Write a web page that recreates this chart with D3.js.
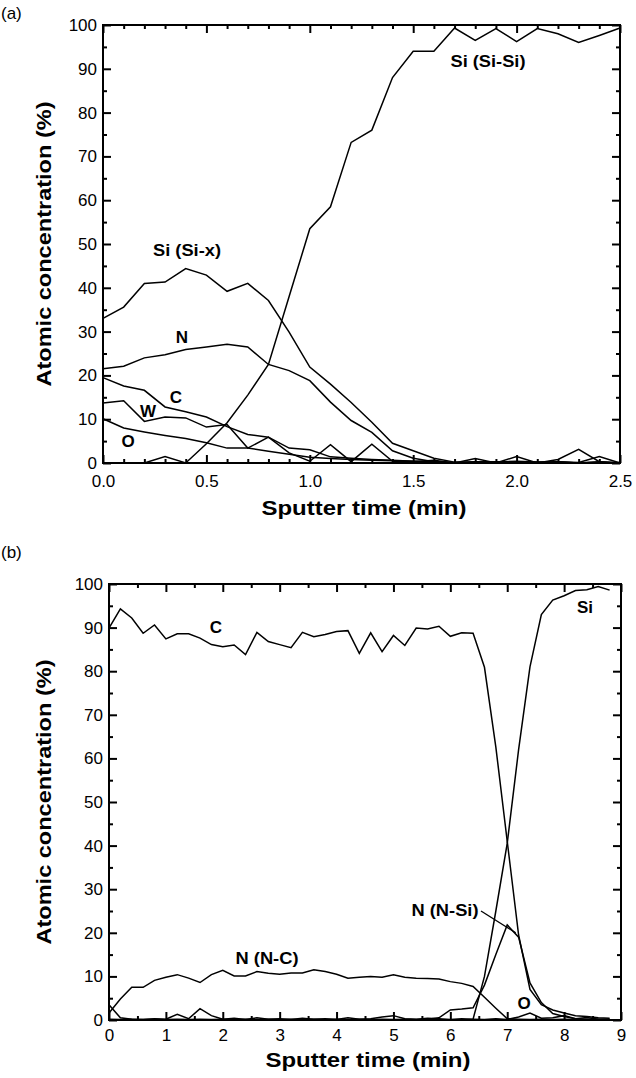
<!DOCTYPE html>
<html>
<head>
<meta charset="utf-8">
<script src="https://cdnjs.cloudflare.com/ajax/libs/d3/7.8.5/d3.min.js"></script>
<style>
  html, body { margin: 0; padding: 0; background: #fff; }
  svg { display: block; }
  text { font-family: "Liberation Sans", Arial, sans-serif; fill: #000; }
</style>
</head>
<body>
<svg id="chart" width="636" height="1078"></svg>
<script>
// ---------- Panel (a) data ----------
const timeA = [0,0.1,0.2,0.3,0.4,0.5,0.6,0.7,0.8,0.9,1.0,1.1,1.2,1.3,1.4,1.5,1.6,1.7,1.8,1.9,2.0,2.1,2.2,2.3,2.4,2.5];
const siSiSiA = [0,0,0,1.5,0,4.4,9.2,15.5,22.5,38,53.5,58.5,73.2,76,88,94,94,99.3,96.5,99.2,96.2,99.2,98,96,97.6,99.3];
const siSixA  = [33,35.6,41,41.3,44.4,42.9,39.2,41,37.1,29.9,21.9,18,13.8,9.3,4.5,2.8,1.1,0.2,0,0.3,0,0.2,0.1,0,0.2,0];
const nA      = [21.5,22.1,24,24.7,25.9,26.5,27.1,26.5,22.5,21.1,18.8,13.9,9.7,7,2.8,1.1,0.3,0,0.2,0,0.1,0,0.2,0,0,0.1];
const cA      = [19.5,17.6,16.6,12.8,11.7,10.5,8.3,6.5,5.9,3.4,3.0,1.4,1.1,0.8,0.6,0.4,0.3,0,0.2,0.3,0.1,0,0.2,0,0.3,0];
const wA      = [13.7,14.2,9.5,10.5,10.3,8.2,8.8,3.4,5.9,2.3,0.4,4.2,0.3,4.3,0.4,0.3,0.6,0,1.0,0,1.5,0,0.8,3.1,0.3,0];
const oA      = [10.1,8.0,7.1,6.3,5.6,4.6,3.4,3.4,2.7,2.0,1.3,1.0,0.8,0.6,0.5,0.4,0.2,0.1,0.3,0.2,0.4,0.2,0.3,0.1,1.5,0];

// ---------- Panel (b) data ----------
const timeB = [0,0.2,0.4,0.6,0.8,1.0,1.2,1.4,1.6,1.8,2.0,2.2,2.4,2.6,2.8,3.0,3.2,3.4,3.6,3.8,4.0,4.2,4.4,4.6,4.8,5.0,5.2,5.4,5.6,5.8,6.0,6.2,6.4,6.6,6.8,7.0,7.2,7.4,7.6,7.8,8.0,8.2,8.4,8.6,8.8];
const cB   = [89.9,94.3,92.2,88.7,90.6,87.4,88.6,88.6,87.6,86.1,85.6,86.0,83.8,88.9,86.8,86.1,85.4,88.9,87.9,88.4,89.1,89.3,84.1,88.8,84.5,88.2,85.9,89.9,89.7,90.3,88.0,88.8,88.7,80.9,62.6,41,19.5,7.0,3.5,2.3,1.6,1.0,0.8,0.5,0.4];
const siB  = [0,0,0,0,0,0,0,0,0,0,0,0,0,0,0,0,0,0,0,0,0,0,0,0,0,0,0,0,0,0,0,0,0.2,10,25,40.5,62,81,93,96.3,97.3,98.5,98.7,99.4,98.6];
const nSiB = [0.2,0.1,0.2,0.1,0.2,0.1,0.2,0.1,0.2,0.1,0.2,0.1,0.2,0.1,0.2,0.1,0.2,0.1,0.2,0.1,0.2,0.1,0.2,0.1,0.2,0.1,0.2,0.1,0.2,0.5,2.3,2.5,2.8,8,15,21.8,19,8.5,4,1.5,0.8,0.3,0.2,0.1,0.1];
const nCB  = [1.6,4.8,7.5,7.5,9.1,9.8,10.4,9.6,8.6,10.4,11.4,10.1,10.1,11.1,10.7,10.5,10.8,10.8,11.5,11.1,10.5,9.6,9.8,10.0,9.8,10.4,9.8,9.6,9.5,9.4,8.8,8.4,7.7,5.2,2.7,0.3,0.2,0.1,0.2,0.1,0.2,0.1,0.1,0.2,0.1];
const oB   = [3.5,0.5,0.2,0.1,0.3,0.2,1.3,0.3,2.6,1.0,0.2,0.4,0.1,0.5,0.2,0.3,0.1,0.4,0.2,0.3,0.1,0.5,0.2,0.3,0.7,1.0,0.3,0.2,0.4,0.3,0.1,0.3,0.2,0.1,0.3,0.1,0.7,1.6,0.4,0.5,1.0,0.3,0.6,0.2,0.1];

// ---------- Tick definitions ----------
const yMajor = [0,10,20,30,40,50,60,70,80,90,100];
const yMinor = [5,15,25,35,45,55,65,75,85,95];
const xMajorA = [0,0.5,1.0,1.5,2.0,2.5];
const xMinorA = [0.1,0.2,0.3,0.4,0.6,0.7,0.8,0.9,1.1,1.2,1.3,1.4,1.6,1.7,1.8,1.9,2.1,2.2,2.3,2.4];
const xMajorB = [0,1,2,3,4,5,6,7,8,9];
const xMinorB = [0.5,1.5,2.5,3.5,4.5,5.5,6.5,7.5,8.5];

const svg = d3.select("#chart");

function drawPanel(cfg) {
  const g = svg.append("g");
  const x = d3.scaleLinear().domain(cfg.xDomain).range([cfg.left, cfg.right]);
  const y = d3.scaleLinear().domain([0, 100]).range([cfg.bottom, cfg.top]);

  const axisStyle = sel => {
    sel.select(".domain").remove();
    sel.selectAll("line").attr("stroke", "#000").attr("stroke-width", 2);
    sel.selectAll("text").style("font-size", "17px").attr("fill", "#000");
  };

  g.append("g").attr("transform", `translate(0,${cfg.bottom})`)
    .call(d3.axisBottom(x).tickValues(cfg.xMajor).tickSize(-8).tickPadding(cfg.xPad).tickFormat(cfg.xFmt))
    .call(axisStyle);
  g.append("g").attr("transform", `translate(0,${cfg.bottom})`)
    .call(d3.axisBottom(x).tickValues(cfg.xMinor).tickSize(-4).tickFormat(""))
    .call(axisStyle);
  g.append("g").attr("transform", `translate(0,${cfg.top})`)
    .call(d3.axisTop(x).tickValues(cfg.xMajor).tickSize(-8).tickFormat(""))
    .call(axisStyle);
  g.append("g").attr("transform", `translate(0,${cfg.top})`)
    .call(d3.axisTop(x).tickValues(cfg.xMinor).tickSize(-4).tickFormat(""))
    .call(axisStyle);
  g.append("g").attr("transform", `translate(${cfg.left},0)`)
    .call(d3.axisLeft(y).tickValues(yMajor).tickSize(-8).tickPadding(6).tickFormat(d3.format("d")))
    .call(axisStyle);
  g.append("g").attr("transform", `translate(${cfg.left},0)`)
    .call(d3.axisLeft(y).tickValues(yMinor).tickSize(-4).tickFormat(""))
    .call(axisStyle);
  g.append("g").attr("transform", `translate(${cfg.right},0)`)
    .call(d3.axisRight(y).tickValues(yMajor).tickSize(-8).tickFormat(""))
    .call(axisStyle);
  g.append("g").attr("transform", `translate(${cfg.right},0)`)
    .call(d3.axisRight(y).tickValues(yMinor).tickSize(-4).tickFormat(""))
    .call(axisStyle);

  g.append("rect")
    .attr("x", cfg.left).attr("y", cfg.top)
    .attr("width", cfg.right - cfg.left).attr("height", cfg.bottom - cfg.top)
    .attr("fill", "none").attr("stroke", "#000").attr("stroke-width", 2);

  const line = d3.line().x(d => x(d[0])).y(d => y(d[1]));
  cfg.series.forEach(s => {
    g.append("path")
      .datum(cfg.time.map((t, i) => [t, s[i]]))
      .attr("d", line)
      .attr("fill", "none").attr("stroke", "#000").attr("stroke-width", 1.5)
      .attr("stroke-linejoin", "miter");
  });

  const cy = (cfg.top + cfg.bottom) / 2;
  g.append("text")
    .attr("transform", `translate(51,${cy}) rotate(-90)`)
    .attr("text-anchor", "middle")
    .attr("textLength", 285).attr("lengthAdjust", "spacingAndGlyphs")
    .style("font-size", "20px").style("font-weight", "bold")
    .text("Atomic concentration (%)");
  g.append("text")
    .attr("x", cfg.xTitleX).attr("y", cfg.bottom + cfg.titleOff)
    .attr("text-anchor", "middle")
    .attr("textLength", 205).attr("lengthAdjust", "spacingAndGlyphs")
    .style("font-size", "20px").style("font-weight", "bold")
    .text("Sputter time (min)");

  g.append("text").attr("x", 1).attr("y", cfg.tagY)
    .style("font-size", "17px").text(cfg.tag);

  cfg.labels.forEach(l => {
    const t = g.append("text")
      .attr("x", l.x).attr("y", l.y).attr("text-anchor", "middle")
      .attr("dominant-baseline", "central")
      .style("font-size", "17px").style("font-weight", "bold")
      .text(l.text);
    if (l.w) t.attr("textLength", l.w).attr("lengthAdjust", "spacingAndGlyphs");
  });
  return { g, x, y };
}

drawPanel({
  xDomain: [0, 2.5], left: 103, right: 620, top: 25, bottom: 463,
  xMajor: xMajorA, xMinor: xMinorA, xFmt: d3.format(".1f"), xPad: 12, titleOff: 52,
  time: timeA,
  series: [siSiSiA, siSixA, nA, cA, wA, oA],
  xTitleX: 364, tag: "(a)", tagY: 19,
  labels: [
    { text: "Si (Si-Si)", x: 488, y: 61, w: 75 },
    { text: "Si (Si-x)", x: 187, y: 250, w: 68 },
    { text: "N", x: 182, y: 337 },
    { text: "C", x: 176, y: 397 },
    { text: "W", x: 148, y: 411 },
    { text: "O", x: 128, y: 441 }
  ]
});

const pb = drawPanel({
  xDomain: [0, 9], left: 109, right: 621, top: 584, bottom: 1020,
  xMajor: xMajorB, xMinor: xMinorB, xFmt: d3.format("d"), xPad: 9, titleOff: 47,
  time: timeB,
  series: [cB, siB, nSiB, nCB, oB],
  xTitleX: 368, tag: "(b)", tagY: 558,
  labels: [
    { text: "C", x: 216, y: 627 },
    { text: "Si", x: 585, y: 607 },
    { text: "N (N-C)", x: 267, y: 958, w: 63 },
    { text: "N (N-Si)", x: 445, y: 910, w: 67 },
    { text: "O", x: 524, y: 1003 }
  ]
});

pb.g.append("line")
  .attr("x1", 481).attr("y1", 911)
  .attr("x2", pb.x(7.15)).attr("y2", pb.y(20))
  .attr("stroke", "#000").attr("stroke-width", 1.3);
</script>
</body>
</html>
